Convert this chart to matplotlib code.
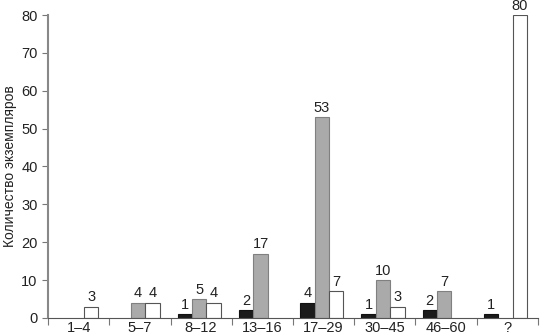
import matplotlib
matplotlib.use("Agg")
import matplotlib.pyplot as plt
import numpy as np

plt.rcParams['font.family'] = ['Liberation Sans', 'DejaVu Sans']

categories = ['1–4', '5–7', '8–12', '13–16', '17–29', '30–45', '46–60', '?']
black_vals = [0, 0, 1, 2, 4, 1, 2, 1]
gray_vals = [0, 4, 5, 17, 53, 10, 7, 0]
white_vals = [3, 4, 4, 0, 7, 3, 0, 80]

fig = plt.figure(figsize=(5.4, 3.36), dpi=100)
ax = fig.add_axes([0.089, 0.054, 0.907, 0.901])

x = np.arange(len(categories)) + 0.5
w = 0.235
series = [
    (black_vals, -w, '#1a1a1a', '#111111'),
    (gray_vals, 0.0, '#aaaaaa', '#808080'),
    (white_vals, w, '#ffffff', '#555555'),
]
for vals, off, fc, ec in series:
    for xi, v in zip(x, vals):
        if v == 0:
            continue
        ax.bar(xi + off - 0.03, v, width=w, color=fc, edgecolor=ec, linewidth=0.8, zorder=2)
        ax.text(xi + off - 0.03, v + 0.6, str(v), ha='center', va='bottom',
                fontsize=10.5, color='#222222', clip_on=False)

ax.set_xlim(0, 8)
ax.set_ylim(0, 80)
ax.set_yticks(range(0, 81, 10))
ax.set_xticks(np.arange(0, 9))
ax.set_xticklabels([])
ax.set_xticks(x, minor=True)
ax.set_xticklabels(categories, minor=True)
ax.tick_params(axis='x', which='minor', length=0, pad=2, labelsize=10.5, colors='#222222')
ax.tick_params(axis='x', which='major', length=5, direction='out', color='#777777')
ax.tick_params(axis='y', length=4, direction='out', color='#777777', labelsize=10.5, labelcolor='#222222')

for s in ['top', 'right']:
    ax.spines[s].set_visible(False)
ax.spines['left'].set_color('#888888')
ax.spines['left'].set_linewidth(1.5)
ax.spines['bottom'].set_color('#555555')

ax.set_ylabel('Количество экземпляров', fontsize=10, color='#222222', labelpad=3)

fig.savefig('out.png', dpi=100)
